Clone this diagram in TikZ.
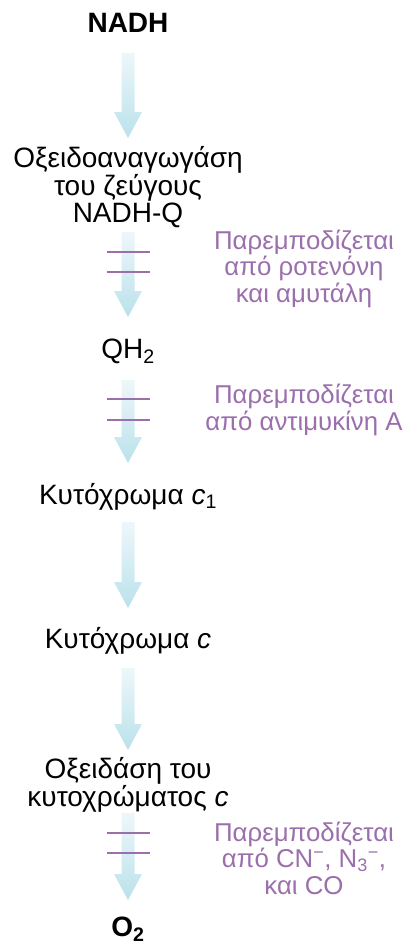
\documentclass[tikz,border=0pt]{standalone}
\usepackage{fontspec}
\setmainfont{Liberation Sans}
\usetikzlibrary{calc}
\definecolor{FlowTop}{RGB}{238,247,250}
\definecolor{FlowBot}{RGB}{186,225,235}
\definecolor{Inhibit}{RGB}{155,110,172}

% fat shaded flow arrow from #1 (shaft top) to #2 (tip)
\newcommand\flowarrow[2]{%
  \shade[top color=FlowTop, bottom color=FlowBot]
    let \p1=(#1), \p2=(#2) in
    (\x1-6.5pt,\y1) -- (\x1+6.5pt,\y1) -- (\x1+6.5pt,\y2+26pt)
    -- (\x1+14pt,\y2+26pt) -- (\x2,\y2) -- (\x1-14pt,\y2+26pt)
    -- (\x1-6.5pt,\y2+26pt) -- cycle;}

\begin{document}
\begin{tikzpicture}[
  x=1pt, y=-1pt,
  every node/.style={inner sep=0pt, align=center},
  carrier/.style={anchor=base, text=black, font=\fontsize{28}{26.5}\selectfont},
  inhib/.style={anchor=base, text=Inhibit, font=\fontsize{25.8}{26.5}\selectfont},
  blockbar/.style={draw=Inhibit, line width=1.6pt}
]
\useasboundingbox (0,0) rectangle (404,948);

% Column centres
\def\cx{128}
\def\lx{304}

% ============================================================
% Carriers (anchor = baseline of last line)
% ============================================================
\node[carrier, font=\fontsize{28}{26.5}\selectfont\bfseries] (nadh) at (\cx,32) {NADH};
\node[carrier] (nadhq) at (\cx,222) {Οξειδοαναγωγάση\\του ζεύγους\\NADH-Q};
\node[carrier] (qh) at (\cx,358) {QH\textsubscript{2}};
\node[carrier] (cytcone) at (\cx,504) {Κυτόχρωμα \textit{c}\textsubscript{1}};
\node[carrier] (cytc) at (\cx,648) {Κυτόχρωμα \textit{c}};
\node[carrier] (cox) at (\cx,806) {Οξειδάση του\\κυτοχρώματος \textit{c}};
\node[carrier, font=\fontsize{28}{26.5}\selectfont\bfseries] (otwo) at (\cx,936) {O\textsubscript{2}};

% ============================================================
% Inhibitors
% ============================================================
\node[inhib] (inhibone) at (\lx,302) {Παρεμποδίζεται\\από ροτενόνη\\και αμυτάλη};
\node[inhib] (inhibtwo) at (\lx,430) {Παρεμποδίζεται\\από αντιμυκίνη Α};
\node[inhib] (inhibthree) at (\lx,894) {Παρεμποδίζεται\\από CN\textsuperscript{−}, N\textsubscript{3}\textsuperscript{−},\\και CO};

% ============================================================
% Flow arrows (shaft top / tip)
% ============================================================
\coordinate (aones) at (\cx,53);   \coordinate (aonee) at (\cx,138);
\coordinate (atwos) at (\cx,232);  \coordinate (atwoe) at (\cx,317);
\coordinate (athrs) at (\cx,380);  \coordinate (athre) at (\cx,463);
\coordinate (afous) at (\cx,522);  \coordinate (afoue) at (\cx,608);
\coordinate (afivs) at (\cx,668);  \coordinate (afive) at (\cx,750);
\coordinate (asixs) at (\cx,813);  \coordinate (asixe) at (\cx,900);

\flowarrow{aones}{aonee}
\flowarrow{atwos}{atwoe}
\flowarrow{athrs}{athre}
\flowarrow{afous}{afoue}
\flowarrow{afivs}{afive}
\flowarrow{asixs}{asixe}

% Blocking bars
\foreach \by in {252,272,399,420,833,853}{
  \draw[blockbar] (\cx-21.5,\by) -- (\cx+21.5,\by);
}

\end{tikzpicture}
\end{document}
